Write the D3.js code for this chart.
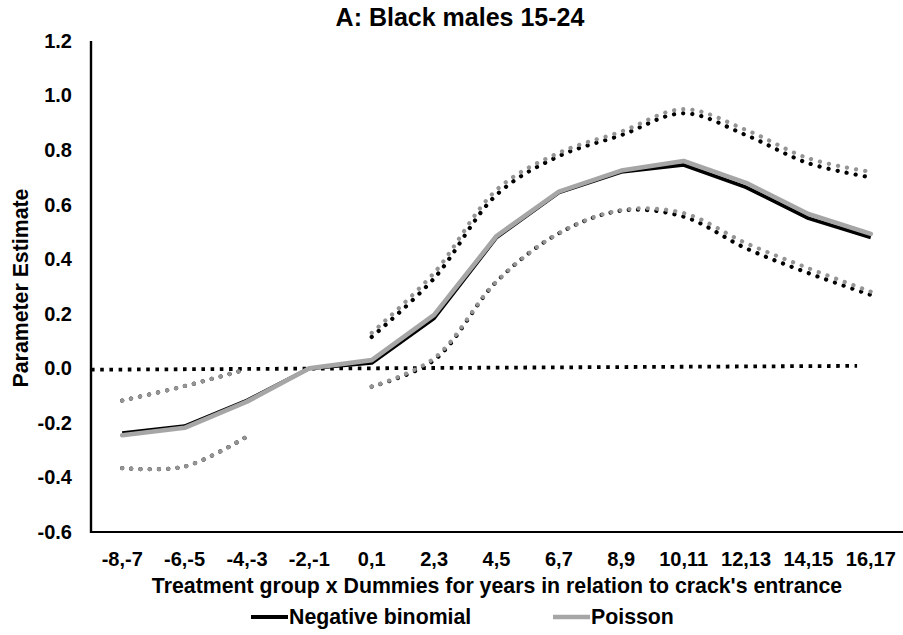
<!DOCTYPE html>
<html>
<head>
<meta charset="utf-8">
<script src="https://cdn.jsdelivr.net/npm/d3@7"></script>
<style>
  html, body { margin: 0; padding: 0; background: #fff; }
  svg { display: block; font-family: "Liberation Sans", Arial, sans-serif; font-weight: bold; }
</style>
</head>
<body>
<svg id="chart" width="903" height="635"></svg>
<script>
const categories = ["-8,-7","-6,-5","-4,-3","-2,-1","0,1","2,3","4,5","6,7","8,9","10,11","12,13","14,15","16,17"];
const negBinomial = [-0.238,-0.212,-0.118,0.0,0.02,0.184,0.48,0.645,0.72,0.746,0.664,0.55,0.48];
const poisson     = [-0.245,-0.218,-0.122,0.0,0.03,0.196,0.485,0.648,0.725,0.76,0.68,0.566,0.493];
const nbUpper     = [-0.118,-0.065,-0.003,null,0.115,0.33,0.636,0.778,0.855,0.935,0.855,0.752,0.70];
const poisUpper   = [-0.118,-0.065,-0.003,null,0.13,0.35,0.654,0.79,0.868,0.95,0.874,0.77,0.72];
const nbLower     = [-0.366,-0.36,-0.25,null,-0.067,0.03,0.318,0.495,0.578,0.556,0.44,0.349,0.269];
const poisLower   = [-0.366,-0.36,-0.25,null,-0.067,0.037,0.318,0.495,0.58,0.569,0.459,0.367,0.281];
const zeroLineIdx = [-0.5, 11.78];
const zeroLineVal = [-0.005, 0.009];
const yTicks = [1.2,1.0,0.8,0.6,0.4,0.2,0.0,-0.2,-0.4,-0.6];
const title = "A: Black males 15-24";
const xTitle = "Treatment group x Dummies for years in relation to crack's entrance";
const yTitle = "Parameter Estimate";
const legendNames = ["Negative binomial", "Poisson"];

(function () {
const svg = d3.select("#chart");
const mLeft = 91, mRight = 902, mTop = 41, mBottom = 532;

const x = d3.scaleBand().domain(categories).range([mLeft, mRight]).padding(0);
const xi = d3.scaleLinear().domain([-0.5, categories.length - 0.5]).range([mLeft, mRight]);
const y = d3.scaleLinear().domain([-0.6, 1.2]).range([mBottom, mTop]);
const cx = i => x(categories[i]) + x.bandwidth() / 2;

// Title
svg.append("text").attr("x", 460).attr("y", 26).attr("text-anchor", "middle")
  .attr("font-size", 25).attr("fill", "#000").text(title);

// Y axis labels
const yAxis = d3.axisLeft(y).tickValues(yTicks).tickFormat(d => d.toFixed(1)).tickSize(0).tickPadding(19);
const gy = svg.append("g").attr("transform", `translate(${mLeft},0)`).call(yAxis);
gy.select(".domain").remove();
gy.selectAll("text").attr("font-size", 20).attr("font-family", "Liberation Sans, Arial, sans-serif").attr("font-weight", "bold").attr("fill", "#000");

// X axis labels
const xAxis = d3.axisBottom(x).tickSize(0).tickPadding(20);
const gx = svg.append("g").attr("transform", `translate(0,${mBottom})`).call(xAxis);
gx.select(".domain").remove();
gx.selectAll("text").attr("font-size", 20).attr("font-family", "Liberation Sans, Arial, sans-serif").attr("font-weight", "bold").attr("fill", "#000");

// Axis lines
svg.append("line").attr("x1", mLeft).attr("x2", mLeft).attr("y1", y(1.2)).attr("y2", mBottom + 1)
  .attr("stroke", "#000").attr("stroke-width", 2.4);
svg.append("line").attr("x1", mLeft).attr("x2", 903).attr("y1", mBottom).attr("y2", mBottom)
  .attr("stroke", "#000").attr("stroke-width", 1.8);

// Axis titles
svg.append("text").attr("x", 497).attr("y", 593).attr("text-anchor", "middle")
  .attr("font-size", 21.3).attr("fill", "#000").text(xTitle);
svg.append("text").attr("transform", "translate(28,288) rotate(-90)").attr("text-anchor", "middle")
  .attr("font-size", 21.3).attr("fill", "#000").text(yTitle);

// Zero reference line
svg.append("path")
  .datum(zeroLineIdx.map((d, i) => [xi(d), y(zeroLineVal[i])]))
  .attr("d", d3.line())
  .attr("fill", "none").attr("stroke", "#000").attr("stroke-width", 3.8)
  .attr("stroke-dasharray", "3.6,5.6");

// CI dotted smooth lines
const ciLine = d3.line()
  .defined(d => d != null)
  .x((d, i) => cx(i))
  .y(d => y(d))
  .curve(d3.curveCatmullRom.alpha(0.5));

function dotted(data, color) {
  svg.append("path").datum(data).attr("d", ciLine)
    .attr("fill", "none").attr("stroke", color).attr("stroke-width", 4.2)
    .attr("stroke-linecap", "round").attr("stroke-dasharray", "0.1,9.1");
}
dotted(nbUpper, "#000");
dotted(nbLower, "#000");
dotted(poisUpper, "#959595");
dotted(poisLower, "#959595");

// Main lines
const mainLine = d3.line().x((d, i) => cx(i)).y(d => y(d));
svg.append("path").datum(negBinomial).attr("d", mainLine)
  .attr("fill", "none").attr("stroke", "#000").attr("stroke-width", 3.8).attr("stroke-linejoin", "round");
svg.append("path").datum(poisson).attr("d", mainLine)
  .attr("fill", "none").attr("stroke", "#a6a6a6").attr("stroke-width", 4.6).attr("stroke-linejoin", "round").attr("stroke-linecap", "round");

// Legend
const legend = [
  { name: legendNames[0], color: "#000", w: 3.8, x0: 251 },
  { name: legendNames[1], color: "#a6a6a6", w: 4.6, x0: 553 }
];
legend.forEach(l => {
  svg.append("line").attr("x1", l.x0).attr("x2", l.x0 + 37).attr("y1", 617).attr("y2", 617)
    .attr("stroke", l.color).attr("stroke-width", l.w);
  svg.append("text").attr("x", l.x0 + 38).attr("y", 624).attr("font-size", 21.3).attr("fill", "#000").text(l.name);
});
})();
</script>
</body>
</html>
